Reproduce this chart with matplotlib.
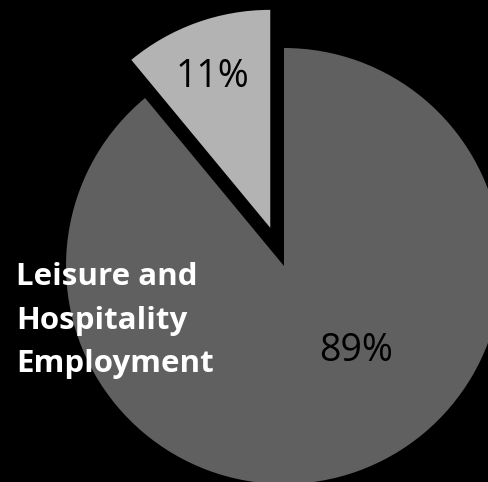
import matplotlib
matplotlib.use("Agg")
from matplotlib import pyplot as plt

# data
labels = ["Other", "Leisure and\nHospitality\nEmployment"]
shares = [11, 89]
colors = ["#b3b3b3", "#606060"]
explode = [0.186, 0]

fig = plt.figure(figsize=(4.89, 4.82), dpi=100, facecolor="black")
ax = fig.add_axes([0, 0, 1, 1])
ax.set_facecolor("black")

wedges, texts = ax.pie(shares, colors=colors, explode=explode,
                       startangle=90, counterclock=True, radius=1)

ax.set_aspect("auto")
ax.set_xlim(-1.3028, 0.9404)
ax.set_ylim(-0.9908, 1.2202)
ax.axis("off")

# percent labels
font = "Open Sans"
ax.text(-0.330, 0.869, f"{shares[0]}%", ha="center", va="center",
        fontsize=27, family=font, color="black")
ax.text(0.330, -0.390, f"{shares[1]}%", ha="center", va="center",
        fontsize=27, family=font, color="black")

# category label
ax.text(-1.229, -0.25, labels[1], ha="left", va="center", fontsize=22.5,
        family=font, fontweight="bold", color="white", linespacing=1.58)

fig.savefig("out.png", dpi=100, facecolor="black")
